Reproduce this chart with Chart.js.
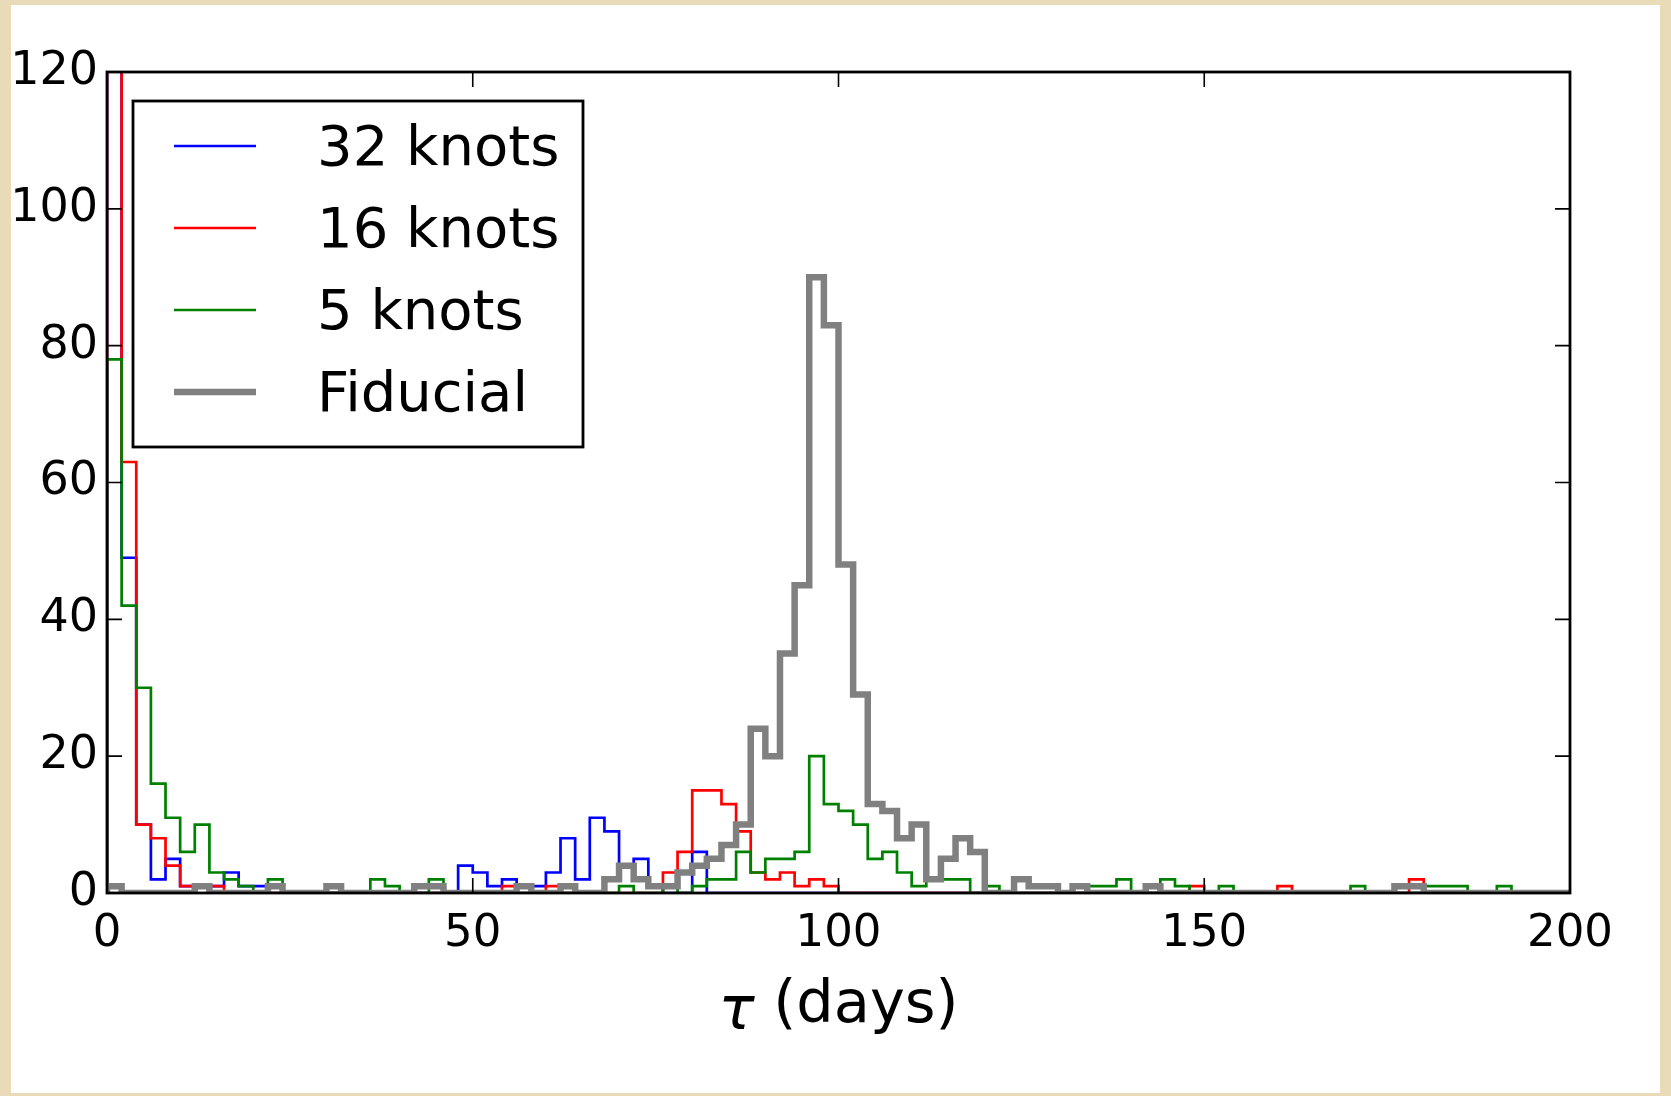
<!DOCTYPE html>
<html>
<head>
<meta charset="utf-8">
<title>tau histogram</title>
<script src="https://cdn.jsdelivr.net/npm/chart.js@4.4.1/dist/chart.umd.min.js"></script>
<style>
  html, body { margin: 0; padding: 0; background: #e9dbb7; }
  #wrap { position: absolute; left: 0; top: 0; width: 1671px; height: 1096px; }
</style>
</head>
<body>
<div id="wrap"><canvas id="tauChart" width="1671" height="1096"></canvas></div>
<script>
// histogram bins are 2 days wide, from 0 to 200
const binWidth = 2;
const xTicks = [0, 50, 100, 150, 200];
const yTicks = [0, 20, 40, 60, 80, 100, 120];

const seriesLabels = ['32 knots', '16 knots', '5 knots', 'Fiducial'];

// counts per bin, index i -> [2i, 2i+2] days
// first bins of 32 and 16 knots go off the top of the plot
const knots32 = [
  150, 49, 10, 2, 5, 1, 1, 1, 3, 1,
  1, 0, 0, 0, 0, 0, 0, 0, 0, 0,
  0, 0, 0, 0, 4, 3, 1, 2, 1, 1,
  3, 8, 2, 11, 9, 4, 5, 1, 0, 0,
  6, 0, 0, 0, 0, 0, 0, 0, 0, 0,
  0, 0, 0, 0, 0, 0, 0, 0, 0, 0,
  0, 0, 0, 0, 0, 0, 0, 0, 0, 0,
  0, 0, 0, 0, 0, 0, 0, 0, 0, 0,
  0, 0, 0, 0, 0, 0, 0, 0, 0, 0,
  0, 0, 0, 0, 0, 0, 0, 0, 0, 0
];
const knots16 = [
  190, 63, 10, 8, 4, 1, 1, 1, 0, 0,
  0, 0, 0, 0, 0, 0, 0, 0, 0, 0,
  0, 0, 0, 0, 0, 0, 0, 1, 0, 0,
  1, 0, 0, 0, 0, 0, 0, 0, 3, 6,
  15, 15, 13, 9, 3, 2, 3, 1, 2, 1,
  0, 0, 0, 0, 0, 0, 0, 0, 0, 0,
  0, 0, 0, 0, 0, 0, 0, 0, 0, 0,
  0, 0, 0, 0, 1, 0, 0, 0, 0, 0,
  1, 0, 0, 0, 0, 0, 0, 0, 0, 2,
  0, 0, 0, 0, 0, 0, 0, 0, 0, 0
];
const knots5 = [
  78, 42, 30, 16, 11, 6, 10, 3, 2, 1,
  0, 2, 0, 0, 0, 0, 0, 0, 2, 1,
  0, 0, 2, 0, 0, 0, 0, 0, 0, 0,
  0, 0, 0, 0, 0, 1, 0, 0, 1, 0,
  1, 2, 2, 6, 3, 5, 5, 6, 20, 13,
  12, 10, 5, 6, 3, 1, 2, 2, 2, 0,
  1, 0, 0, 0, 0, 0, 0, 1, 1, 2,
  0, 0, 2, 1, 0, 0, 1, 0, 0, 0,
  0, 0, 0, 0, 0, 1, 0, 0, 0, 0,
  1, 1, 1, 0, 0, 1, 0, 0, 0, 0
];
const fiducial = [
  1, 0, 0, 0, 0, 0, 1, 0, 0, 0,
  0, 1, 0, 0, 0, 1, 0, 0, 0, 0,
  0, 1, 1, 0, 0, 0, 0, 0, 1, 0,
  0, 1, 0, 0, 2, 4, 2, 1, 1, 3,
  4, 5, 7, 10, 24, 20, 35, 45, 90, 83,
  48, 29, 13, 12, 8, 10, 2, 5, 8, 6,
  0, 0, 2, 1, 1, 0, 1, 0, 0, 0,
  0, 1, 0, 0, 0, 0, 0, 0, 0, 0,
  0, 0, 0, 0, 0, 0, 0, 0, 1, 1,
  0, 0, 0, 0, 0, 0, 0, 0, 0, 0
];

const FONT = '"DejaVu Sans", sans-serif';

// outline of a step histogram, like histtype='step'
// point i sits on the left edge of bin i, the line holds its value to the next edge
function stepPoints(counts) {
  const pts = [{x: 0, y: 0}];
  counts.forEach((c, i) => pts.push({x: i * binWidth, y: c}));
  pts.push({x: counts.length * binWidth, y: 0});
  return pts;
}

function makeDataset(label, counts, color, width, order) {
  return {
    label: label,
    data: stepPoints(counts),
    borderColor: color,
    borderWidth: width,
    borderJoinStyle: 'miter',
    stepped: 'before',
    pointRadius: 0,
    fill: false,
    clip: 0,
    order: order
  };
}

//white sheet on the parchment
const sheet = {
  id: 'sheet',
  beforeDraw(chart) {
    const ctx = chart.ctx;
    ctx.save();
    ctx.fillStyle = '#ffffff';
    ctx.fillRect(11, 5, 1649, 1088);
    ctx.restore();
  }
};

//axes box with inward ticks
const frame = {
  id: 'frame',
  afterDatasetsDraw(chart) {
    const {ctx, chartArea: a, scales} = chart;
    ctx.save();
    ctx.strokeStyle = '#000';
    ctx.lineWidth = 1.6;
    const tl = 15;
    xTicks.forEach(v => {
      const px = scales.x.getPixelForValue(v);
      ctx.beginPath();
      ctx.moveTo(px, a.bottom); ctx.lineTo(px, a.bottom - tl);
      ctx.moveTo(px, a.top); ctx.lineTo(px, a.top + tl);
      ctx.stroke();
    });
    yTicks.forEach(v => {
      const py = scales.y.getPixelForValue(v);
      ctx.beginPath();
      ctx.moveTo(a.left, py); ctx.lineTo(a.left + tl, py);
      ctx.moveTo(a.right, py); ctx.lineTo(a.right - tl, py);
      ctx.stroke();
    });
    ctx.lineWidth = 2.8;
    ctx.strokeRect(a.left, a.top, a.right - a.left, a.bottom - a.top);
    ctx.restore();
  }
};

//x axis label, tau in italic like mathtext
const xLabel = {
  id: 'xLabel',
  afterDraw(chart) {
    const {ctx, chartArea: a} = chart;
    const tau = 'τ';
    const rest = ' (days)';
    ctx.save();
    ctx.fillStyle = '#000';
    ctx.textBaseline = 'middle';
    ctx.font = 'italic 60px ' + FONT;
    const w1 = ctx.measureText(tau).width;
    ctx.font = '59px ' + FONT;
    const w2 = ctx.measureText(rest).width;
    const x = (a.left + a.right) / 2 - (w1 + w2) / 2;
    const y = 1007;
    ctx.font = 'italic 60px ' + FONT;
    ctx.fillText(tau, x, y + 6);
    ctx.font = '59px ' + FONT;
    ctx.fillText(rest, x + w1, y);
    ctx.restore();
  }
};

//legend box in the upper left
const legendBox = {
  id: 'legendBox',
  afterDraw(chart) {
    const {ctx, chartArea} = chart;
    const x0 = chartArea.left + 26;
    const y0 = chartArea.top + 29;
    ctx.save();
    ctx.fillStyle = '#fff';
    ctx.fillRect(x0, y0, 450, 346);
    ctx.lineWidth = 2.8;
    ctx.strokeStyle = '#000';
    ctx.strokeRect(x0, y0, 450, 346);
    ctx.font = '56px ' + FONT;
    ctx.textBaseline = 'middle';
    chart.data.datasets.forEach((ds, i) => {
      const y = y0 + 45 + i * 82;
      ctx.beginPath();
      ctx.strokeStyle = ds.borderColor;
      ctx.lineWidth = ds.borderWidth;
      ctx.moveTo(x0 + 41, y);
      ctx.lineTo(x0 + 123, y);
      ctx.stroke();
      ctx.fillStyle = '#000';
      ctx.fillText(ds.label, x0 + 184, y + 4);
    });
    ctx.restore();
  }
};

const ctx = document.getElementById('tauChart');

new Chart(ctx, {
  type: 'line',
  data: {
    datasets: [
      makeDataset(seriesLabels[0], knots32, '#0000ff', 2.7, 3),
      makeDataset(seriesLabels[1], knots16, '#ff0000', 2.7, 2),
      makeDataset(seriesLabels[2], knots5, '#008000', 2.7, 1),
      makeDataset(seriesLabels[3], fiducial, '#808080', 6.5, 0)
    ]
  },
  options: {
    responsive: false,
    animation: false,
    layout: {padding: {left: 0, top: 72, right: 101, bottom: 0}},
    plugins: {
      legend: {display: false},
      tooltip: {enabled: false}
    },
    scales: {
      x: {
        type: 'linear',
        min: 0,
        max: 200,
        afterFit: s => { s.height = 203; },
        afterBuildTicks: s => { s.ticks = xTicks.map(v => ({value: v})); },
        grid: {display: false, drawTicks: false},
        border: {display: false},
        ticks: {
          color: '#000',
          font: {family: FONT, size: 45},
          padding: 14,
          maxRotation: 0,
          autoSkip: false
        }
      },
      y: {
        type: 'linear',
        min: 0,
        max: 120,
        afterFit: s => { s.width = 107; },
        afterBuildTicks: s => { s.ticks = yTicks.map(v => ({value: v})); },
        grid: {display: false, drawTicks: false},
        border: {display: false},
        ticks: {
          color: '#000',
          font: {family: FONT, size: 46},
          padding: 9
        }
      }
    }
  },
  plugins: [sheet, frame, xLabel, legendBox]
});
</script>
</body>
</html>
